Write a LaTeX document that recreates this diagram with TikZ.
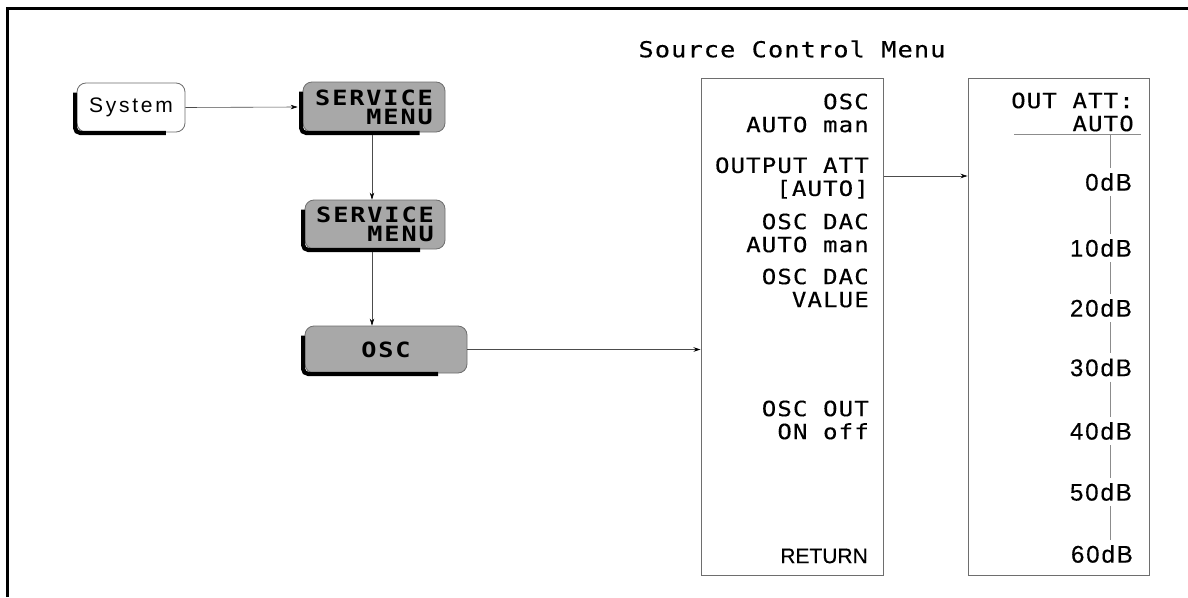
\documentclass[tikz,border=0pt]{standalone}
\usepackage{fontspec}
\usetikzlibrary{arrows.meta,calc}
\newfontfamily\hpmono[FakeStretch=1.15,LetterSpace=5,FakeBold=0.3]{DejaVu Sans Mono}
\newfontfamily\hptitle[FakeStretch=1.15,LetterSpace=5,FakeBold=0.3]{DejaVu Sans Mono}
\newfontfamily\hpkeyf[FakeStretch=1.2,LetterSpace=9]{DejaVu Sans Mono}
\newfontfamily\hpsys[LetterSpace=13]{Liberation Sans}
\newfontfamily\hpdb[LetterSpace=8,FakeBold=0.3]{Liberation Sans}
\newfontfamily\hpret[FakeBold=0.3]{Liberation Sans}
\definecolor{keygray}{RGB}{168,168,168}
\definecolor{edgegray}{RGB}{110,110,110}
\newcommand\keyshadow[1]{%
  \draw[keyshade] ([xshift=-1.5pt,yshift=-10pt]#1.north west)
    -- ([xshift=-1.5pt,yshift=-0.5pt]#1.south west)
    -- ([yshift=-0.5pt]$(#1.south west)!0.82!(#1.south east)$);}
\begin{document}
\begin{tikzpicture}[x=1pt,y=-1pt,
  keybox/.style={draw=edgegray,line width=0.8pt,rounded corners=9pt,inner sep=0pt},
  graykey/.style={keybox,fill=keygray},
  keyshade/.style={line width=4.2pt,black,rounded corners=5pt},
  arr/.style={draw=black!70,line width=0.6pt,-{Stealth[length=7pt,width=4.5pt,black]}},
  menubox/.style={draw=edgegray,line width=1pt,inner sep=0pt},
  menutxt/.style={font=\hpmono\fontsize{21}{23}\selectfont,align=right,anchor=east,inner sep=0pt},
  dbtxt/.style={font=\hpdb\fontsize{24}{25}\selectfont,anchor=east,inner xsep=0pt,inner ysep=5pt},
  keytxt/.style={font=\hpkeyf\bfseries\fontsize{21}{19}\selectfont},
  thinline/.style={draw=black!45,line width=0.8pt},
  frameline/.style={line width=3pt,black}]
\useasboundingbox (0,0) rectangle (1188,597);
\fill[white] (0,0) rectangle (1188,597);
% frame
\coordinate (fbl) at (7.5,597);
\coordinate (ftl) at (7.5,8.5);
\coordinate (ftr) at (1188,8.5);
\draw[frameline] (fbl) -- (ftl) -- (ftr);

% keys
\node[keybox,minimum width=108pt,minimum height=49pt,font=\hpsys\fontsize{21}{23}\selectfont] (sys) at (131,107.5) {System};
\node[graykey,minimum width=142pt,minimum height=50pt,align=right,keytxt] (sm1) at (374,107) {SERVICE\\MENU};
\node[graykey,minimum width=140pt,minimum height=49pt,align=right,keytxt] (sm2) at (375,224.5) {SERVICE\\MENU};
\node[graykey,minimum width=162pt,minimum height=47pt,keytxt] (osc) at (386,349.5) {OSC\hspace{24pt}};
\keyshadow{sys}
\keyshadow{sm1}
\keyshadow{sm2}
\keyshadow{osc}

% title
\node[font=\hptitle\fontsize{22}{24}\selectfont,inner sep=0pt] (title) at (792,49) {Source Control Menu};

% menu boxes
\node[menubox,minimum width=182pt,minimum height=497pt] (m1) at (792,326.5) {};
\node[menubox,minimum width=181pt,minimum height=497pt] (m2) at (1058.5,326.5) {};

% menu 1 texts
\node[menutxt] (t1) at (869,113) {OSC\\AUTO man};
\node[menutxt] (t2) at (869,178) {OUTPUT ATT\\{[AUTO]}};
\node[menutxt] (t3) at (869,233) {OSC DAC\\AUTO man};
\node[menutxt] (t4) at (869,288) {OSC DAC\\VALUE};
\node[menutxt] (t5) at (869,420) {OSC OUT\\ON off};
\node[font=\hpret\fontsize{21}{23}\selectfont,anchor=east,inner sep=0pt] (t6) at (868,556) {RETURN};

% menu 2 texts
\node[menutxt] (h2) at (1134,112) {OUT ATT:\\AUTO};
\coordinate (hlL) at (1014,134);
\coordinate (hlR) at (1141,134);
\coordinate (vtop) at (1110,134);
\draw[thinline] (hlL) -- (hlR);
\node[dbtxt] (d0) at (1132,182) {0dB};
\node[dbtxt] (d10) at (1132,248) {10dB};
\node[dbtxt] (d20) at (1132,308) {20dB};
\node[dbtxt] (d30) at (1132,367.5) {30dB};
\node[dbtxt] (d40) at (1132,431) {40dB};
\node[dbtxt] (d50) at (1132,492) {50dB};
\node[dbtxt] (d60) at (1133,554) {60dB};
\draw[thinline] (vtop) -- (vtop |- d0.north);
\draw[thinline] (vtop |- d0.south) -- (vtop |- d10.north);
\draw[thinline] (vtop |- d10.south) -- (vtop |- d20.north);
\draw[thinline] (vtop |- d20.south) -- (vtop |- d30.north);
\draw[thinline] (vtop |- d30.south) -- (vtop |- d40.north);
\draw[thinline] (vtop |- d40.south) -- (vtop |- d50.north);
\draw[thinline] (vtop |- d50.south) -- (vtop |- d60.north);

% connectors
\draw[arr] (sys.east) -- ([xshift=-5pt]sm1.west);
\draw[arr] ([xshift=-2pt,yshift=-3pt]sm1.south) -- ([xshift=-2pt]sm1.south |- sm2.north);
\draw[arr] ([xshift=-3pt,yshift=-3pt]sm2.south) -- ([xshift=-3pt]sm2.south |- osc.north);
\draw[arr] (osc.east) -- (osc.east -| m1.west);
\draw[arr] (m1.east |- 0,176) -- (m2.west |- 0,176);
\end{tikzpicture}
\end{document}
